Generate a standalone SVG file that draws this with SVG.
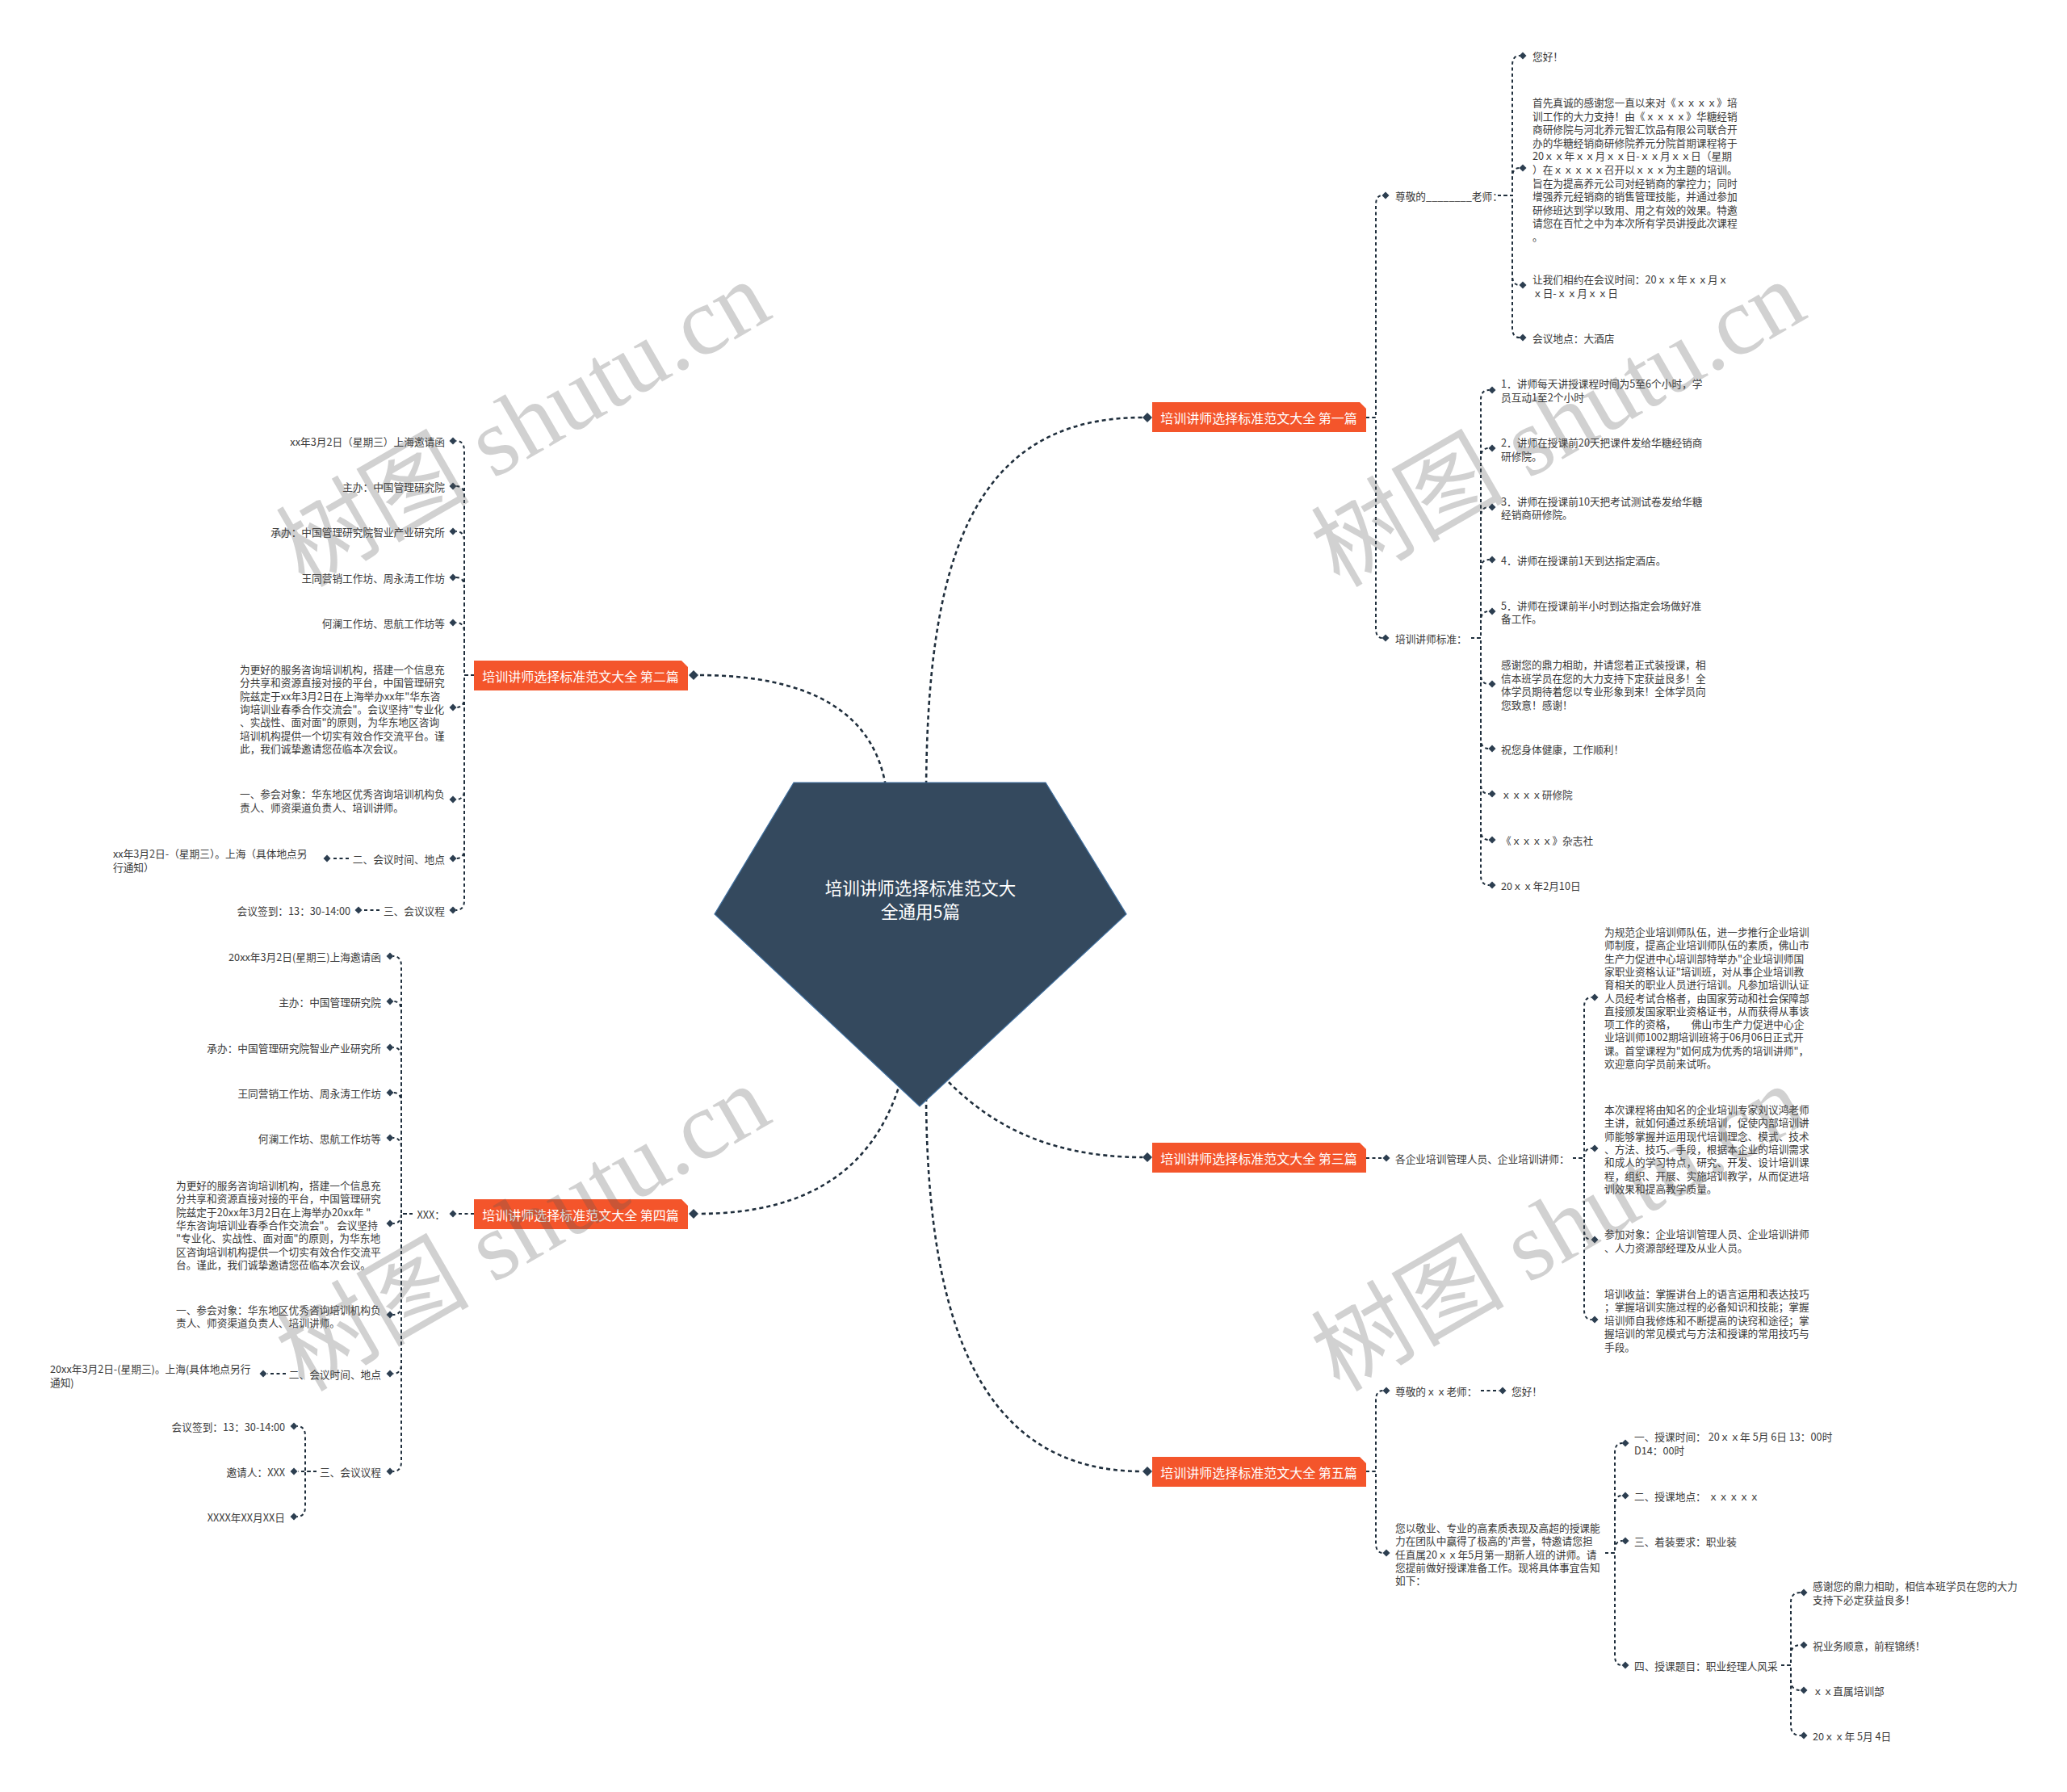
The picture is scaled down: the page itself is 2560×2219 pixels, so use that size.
<svg xmlns="http://www.w3.org/2000/svg" xmlns:xlink="http://www.w3.org/1999/xlink" width="2560" height="2219" viewBox="0 0 2560 2219">
<style>
text{font-family:"Noto Sans CJK SC","Liberation Sans",sans-serif;dominant-baseline:central}
.t{font-size:12.7px;fill:#3a3a3a}
.e{text-anchor:end}
.b{font-size:16px;fill:#fff;text-anchor:middle}
.c{font-size:21.5px;fill:#fff;text-anchor:middle}
.main{fill:none;stroke:#1f2e3c;stroke-width:2.6;stroke-dasharray:5 4}
.sub{fill:none;stroke:#1f2e3c;stroke-width:2;stroke-dasharray:4 3.5}
.box{fill:#f4552b}
.wm{font-family:"Liberation Serif","Noto Sans CJK SC",serif;font-size:120px;fill:#555;fill-opacity:0.27;text-anchor:middle}
</style>
<defs>
<path id="dm" d="M0 -4.5L4.5 0L0 4.5L-4.5 0Z" fill="#2c3e50"/>
<path id="dM" d="M0 -6L6 0L0 6L-6 0Z" fill="#2c3e50"/>
</defs>
<rect width="2560" height="2219" fill="#fff"/>

<g id="connectors">
<path class="main" d="M1147 990 C1147 700 1200 517 1415 517"/>
<path class="main" d="M1099 990 C1090 880 1000 836 865 836"/>
<path class="main" d="M1175 1340 C1220 1385 1290 1433 1415 1433"/>
<path class="main" d="M1115 1340 C1085 1440 1010 1503 865 1503"/>
<path class="main" d="M1147 1350 C1147 1650 1220 1822 1415 1822"/>

<path class="sub" d="M1692 517 H1704 V254 Q1704 242 1712 242"/>
<path class="sub" d="M1692 517 H1704 V778 Q1704 790 1712 790"/>
<path class="sub" d="M1855 242 H1873 V81 Q1873 69 1882 69"/>
<path class="sub" d="M1855 242 H1873 V220 Q1873 208 1882 208"/>
<path class="sub" d="M1855 242 H1873 V341 Q1873 353 1882 353"/>
<path class="sub" d="M1855 242 H1873 V406 Q1873 418 1882 418"/>
<path class="sub" d="M1822 790 H1834 V495 Q1834 483 1844 483"/>
<path class="sub" d="M1822 790 H1834 V567 Q1834 555 1844 555"/>
<path class="sub" d="M1822 790 H1834 V640 Q1834 628 1844 628"/>
<path class="sub" d="M1822 790 H1834 V705 Q1834 693 1844 693"/>
<path class="sub" d="M1822 790 H1834 V769 Q1834 757 1844 757"/>
<path class="sub" d="M1822 790 H1834 V835 Q1834 847 1844 847"/>
<path class="sub" d="M1822 790 H1834 V915 Q1834 927 1844 927"/>
<path class="sub" d="M1822 790 H1834 V971 Q1834 983 1844 983"/>
<path class="sub" d="M1822 790 H1834 V1028 Q1834 1040 1844 1040"/>
<path class="sub" d="M1822 790 H1834 V1084 Q1834 1096 1844 1096"/>

<path class="sub" d="M1692 1434 H1712"/>
<path class="sub" d="M1948 1434 H1962 V1247 Q1962 1235 1971 1235"/>
<path class="sub" d="M1948 1434 H1962 Q1962 1422 1971 1422"/>
<path class="sub" d="M1948 1434 H1962 V1523 Q1962 1535 1971 1535"/>
<path class="sub" d="M1948 1434 H1962 V1622 Q1962 1634 1971 1634"/>

<path class="sub" d="M1692 1822 H1704 V1734 Q1704 1722 1713 1722"/>
<path class="sub" d="M1692 1822 H1704 V1911 Q1704 1923 1713 1923"/>
<path class="sub" d="M1834 1722 H1857"/>
<path class="sub" d="M1988 1923 H2000 V1799 Q2000 1787 2009 1787"/>
<path class="sub" d="M1988 1923 H2000 V1864 Q2000 1852 2009 1852"/>
<path class="sub" d="M1988 1923 H2000 V1920 Q2000 1908 2009 1908"/>
<path class="sub" d="M1988 1923 H2000 V2050 Q2000 2062 2009 2062"/>
<path class="sub" d="M2206 2062 H2218 V1984 Q2218 1972 2230 1972"/>
<path class="sub" d="M2206 2062 H2218 V2049 Q2218 2037 2230 2037"/>
<path class="sub" d="M2206 2062 H2218 V2081 Q2218 2093 2230 2093"/>
<path class="sub" d="M2206 2062 H2218 V2137 Q2218 2149 2230 2149"/>

<path class="sub" d="M587 836 H575 V558 Q575 546 565 546"/>
<path class="sub" d="M587 836 H575 V614 Q575 602 565 602"/>
<path class="sub" d="M587 836 H575 V670 Q575 658 565 658"/>
<path class="sub" d="M587 836 H575 V727 Q575 715 565 715"/>
<path class="sub" d="M587 836 H575 V783 Q575 771 565 771"/>
<path class="sub" d="M587 836 H575 V864 Q575 876 565 876"/>
<path class="sub" d="M587 836 H575 V978 Q575 990 565 990"/>
<path class="sub" d="M587 836 H575 V1051 Q575 1063 565 1063"/>
<path class="sub" d="M587 836 H575 V1115 Q575 1127 565 1127"/>
<path class="sub" d="M432 1063 H410"/>
<path class="sub" d="M470 1127 H449"/>

<path class="sub" d="M587 1503 H566"/>
<path class="sub" d="M511 1503 H497 V1196 Q497 1184 487 1184"/>
<path class="sub" d="M511 1503 H497 V1252 Q497 1240 487 1240"/>
<path class="sub" d="M511 1503 H497 V1309 Q497 1297 487 1297"/>
<path class="sub" d="M511 1503 H497 V1365 Q497 1353 487 1353"/>
<path class="sub" d="M511 1503 H497 V1421 Q497 1409 487 1409"/>
<path class="sub" d="M511 1503 H497 Q497 1515 487 1515"/>
<path class="sub" d="M511 1503 H497 V1616 Q497 1628 487 1628"/>
<path class="sub" d="M511 1503 H497 V1689 Q497 1701 487 1701"/>
<path class="sub" d="M511 1503 H497 V1810 Q497 1822 487 1822"/>
<path class="sub" d="M354 1701 H331"/>
<path class="sub" d="M392 1822 H378 V1778 Q378 1766 368 1766"/>
<path class="sub" d="M392 1822 H369"/>
<path class="sub" d="M392 1822 H378 V1866 Q378 1878 368 1878"/>
</g>

<g id="center">
<path d="M983 969 H1295 L1395 1132 L1139 1370 L885 1132 Z" fill="#34495e" stroke="#3f6f9f" stroke-width="1.2"/>
<text class="c" x="1140" y="1098">培训讲师选择标准范文大</text>
<text class="c" x="1140" y="1127">全通用5篇</text>
</g>

<g id="b1">
<path class="box" d="M1427 498 H1684 L1692 506 V535 H1427 Z"/>
<text class="b" x="1559" y="517">培训讲师选择标准范文大全 第一篇</text>
<use href="#dM" x="1421" y="517"/>
</g>
<g id="b1-a">
<use href="#dm" x="1716" y="242"/>
<text class="t" x="1728" y="242">尊敬的________老师：</text>
</g>
<g id="b1-a1"><use href="#dm" x="1886" y="69"/><text class="t" x="1898" y="69">您好！</text></g>
<g id="b1-a2"><use href="#dm" x="1886" y="208"/>
<text class="t"><tspan x="1898" y="126">首先真诚的感谢您一直以来对《ｘｘｘｘ》培</tspan><tspan x="1898" y="142.6">训工作的大力支持！由《ｘｘｘｘ》华糖经销</tspan><tspan x="1898" y="159.2">商研修院与河北养元智汇饮品有限公司联合开</tspan><tspan x="1898" y="175.8">办的华糖经销商研修院养元分院首期课程将于</tspan><tspan x="1898" y="192.4">20ｘｘ年ｘｘ月ｘｘ日-ｘｘ月ｘｘ日（星期</tspan><tspan x="1898" y="209">）在ｘｘｘｘｘ召开以ｘｘｘ为主题的培训。</tspan><tspan x="1898" y="225.6">旨在为提高养元公司对经销商的掌控力；同时</tspan><tspan x="1898" y="242.2">增强养元经销商的销售管理技能，并通过参加</tspan><tspan x="1898" y="258.8">研修班达到学以致用、用之有效的效果。特邀</tspan><tspan x="1898" y="275.4">请您在百忙之中为本次所有学员讲授此次课程</tspan><tspan x="1898" y="292">。</tspan></text></g>
<g id="b1-a3"><use href="#dm" x="1886" y="353"/>
<text class="t"><tspan x="1898" y="345">让我们相约在会议时间：20ｘｘ年ｘｘ月ｘ</tspan><tspan x="1898" y="362">ｘ日-ｘｘ月ｘｘ日</tspan></text></g>
<g id="b1-a4"><use href="#dm" x="1886" y="418"/><text class="t" x="1898" y="418">会议地点：大酒店</text></g>

<g id="b1-b">
<use href="#dm" x="1716" y="790"/>
<text class="t" x="1728" y="790">培训讲师标准：</text>
</g>
<g id="b1-b1"><use href="#dm" x="1848" y="483"/><text class="t"><tspan x="1859" y="474">1．讲师每天讲授课程时间为5至6个小时，学</tspan><tspan x="1859" y="491">员互动1至2个小时</tspan></text></g>
<g id="b1-b2"><use href="#dm" x="1848" y="555"/><text class="t"><tspan x="1859" y="547">2．讲师在授课前20天把课件发给华糖经销商</tspan><tspan x="1859" y="564">研修院。</tspan></text></g>
<g id="b1-b3"><use href="#dm" x="1848" y="628"/><text class="t"><tspan x="1859" y="620">3．讲师在授课前10天把考试测试卷发给华糖</tspan><tspan x="1859" y="636">经销商研修院。</tspan></text></g>
<g id="b1-b4"><use href="#dm" x="1848" y="693"/><text class="t" x="1859" y="693">4．讲师在授课前1天到达指定酒店。</text></g>
<g id="b1-b5"><use href="#dm" x="1848" y="757"/><text class="t"><tspan x="1859" y="749">5．讲师在授课前半小时到达指定会场做好准</tspan><tspan x="1859" y="765">备工作。</tspan></text></g>
<g id="b1-b6"><use href="#dm" x="1848" y="847"/><text class="t"><tspan x="1859" y="822">感谢您的鼎力相助，并请您着正式装授课，相</tspan><tspan x="1859" y="838.5">信本班学员在您的大力支持下定获益良多！全</tspan><tspan x="1859" y="855">体学员期待着您以专业形象到来！全体学员向</tspan><tspan x="1859" y="871.5">您致意！感谢！</tspan></text></g>
<g id="b1-b7"><use href="#dm" x="1848" y="927"/><text class="t" x="1859" y="927">祝您身体健康，工作顺利！</text></g>
<g id="b1-b8"><use href="#dm" x="1848" y="983"/><text class="t" x="1859" y="983">ｘｘｘｘ研修院</text></g>
<g id="b1-b9"><use href="#dm" x="1848" y="1040"/><text class="t" x="1859" y="1040">《ｘｘｘｘ》杂志社</text></g>
<g id="b1-b10"><use href="#dm" x="1848" y="1096"/><text class="t" x="1859" y="1096">20ｘｘ年2月10日</text></g>

<g id="b3">
<path class="box" d="M1427 1415 H1684 L1692 1423 V1452 H1427 Z"/>
<text class="b" x="1559" y="1434">培训讲师选择标准范文大全 第三篇</text>
<use href="#dM" x="1421" y="1433"/>
</g>
<g id="b3-a"><use href="#dm" x="1717" y="1434"/><text class="t" x="1728" y="1434">各企业培训管理人员、企业培训讲师：</text></g>
<g id="b3-a1"><use href="#dm" x="1975" y="1235"/><text class="t"><tspan x="1987" y="1153">为规范企业培训师队伍，进一步推行企业培训</tspan><tspan x="1987" y="1169.3">师制度，提高企业培训师队伍的素质，佛山市</tspan><tspan x="1987" y="1185.6">生产力促进中心培训部特举办"企业培训师国</tspan><tspan x="1987" y="1201.9">家职业资格认证"培训班，对从事企业培训教</tspan><tspan x="1987" y="1218.2">育相关的职业人员进行培训。凡参加培训认证</tspan><tspan x="1987" y="1234.5">人员经考试合格者，由国家劳动和社会保障部</tspan><tspan x="1987" y="1250.8">直接颁发国家职业资格证书，从而获得从事该</tspan><tspan x="1987" y="1267.1">项工作的资格，　　佛山市生产力促进中心企</tspan><tspan x="1987" y="1283.4">业培训师1002期培训班将于06月06日正式开</tspan><tspan x="1987" y="1299.7">课。首堂课程为"如何成为优秀的培训讲师"，</tspan><tspan x="1987" y="1316">欢迎意向学员前来试听。</tspan></text></g>
<g id="b3-a2"><use href="#dm" x="1975" y="1422"/><text class="t"><tspan x="1987" y="1373">本次课程将由知名的企业培训专家刘议鸿老师</tspan><tspan x="1987" y="1389.3">主讲，就如何通过系统培训，促使内部培训讲</tspan><tspan x="1987" y="1405.6">师能够掌握并运用现代培训理念、模式、技术</tspan><tspan x="1987" y="1421.9">、方法、技巧、手段，根据本企业的培训需求</tspan><tspan x="1987" y="1438.2">和成人的学习特点，研究、开发、设计培训课</tspan><tspan x="1987" y="1454.5">程，组织、开展、实施培训教学，从而促进培</tspan><tspan x="1987" y="1470.8">训效果和提高教学质量。</tspan></text></g>
<g id="b3-a3"><use href="#dm" x="1975" y="1535"/><text class="t"><tspan x="1987" y="1527">参加对象：企业培训管理人员、企业培训讲师</tspan><tspan x="1987" y="1543.5">、人力资源部经理及从业人员。</tspan></text></g>
<g id="b3-a4"><use href="#dm" x="1975" y="1634"/><text class="t"><tspan x="1987" y="1601">培训收益：掌握讲台上的语言运用和表达技巧</tspan><tspan x="1987" y="1617.4">；掌握培训实施过程的必备知识和技能；掌握</tspan><tspan x="1987" y="1633.8">培训师自我修炼和不断提高的诀窍和途径；掌</tspan><tspan x="1987" y="1650.2">握培训的常见模式与方法和授课的常用技巧与</tspan><tspan x="1987" y="1666.6">手段。</tspan></text></g>

<g id="b5">
<path class="box" d="M1427 1804 H1684 L1692 1812 V1841 H1427 Z"/>
<text class="b" x="1559" y="1823">培训讲师选择标准范文大全 第五篇</text>
<use href="#dM" x="1421" y="1822"/>
</g>
<g id="b5-a"><use href="#dm" x="1717" y="1722"/><text class="t" x="1728" y="1722">尊敬的ｘｘ老师：</text></g>
<g id="b5-a1"><use href="#dm" x="1861" y="1722"/><text class="t" x="1872" y="1722">您好！</text></g>
<g id="b5-b"><use href="#dm" x="1717" y="1923"/><text class="t"><tspan x="1728" y="1891">您以敬业、专业的高素质表现及高超的授课能</tspan><tspan x="1728" y="1907.3">力在团队中赢得了极高的'声誉，特邀请您担</tspan><tspan x="1728" y="1923.6">任直属20ｘｘ年5月第一期新人班的讲师。请</tspan><tspan x="1728" y="1939.9">您提前做好授课准备工作。现将具体事宜告知</tspan><tspan x="1728" y="1956.2">如下：</tspan></text></g>
<g id="b5-b1"><use href="#dm" x="2013" y="1787"/><text class="t"><tspan x="2024" y="1778">一、授课时间： 20ｘｘ年 5月 6日 13：00时</tspan><tspan x="2024" y="1795">D14：00时</tspan></text></g>
<g id="b5-b2"><use href="#dm" x="2013" y="1852"/><text class="t" x="2024" y="1852">二、授课地点： ｘｘｘｘｘ</text></g>
<g id="b5-b3"><use href="#dm" x="2013" y="1908"/><text class="t" x="2024" y="1908">三、着装要求：职业装</text></g>
<g id="b5-b4"><use href="#dm" x="2013" y="2062"/><text class="t" x="2024" y="2062">四、授课题目：职业经理人风采</text></g>
<g id="b5-c1"><use href="#dm" x="2234" y="1972"/><text class="t"><tspan x="2245" y="1963">感谢您的鼎力相助，相信本班学员在您的大力</tspan><tspan x="2245" y="1980">支持下必定获益良多！</tspan></text></g>
<g id="b5-c2"><use href="#dm" x="2234" y="2037"/><text class="t" x="2245" y="2037">祝业务顺意，前程锦绣！</text></g>
<g id="b5-c3"><use href="#dm" x="2234" y="2093"/><text class="t" x="2245" y="2093">ｘｘ直属培训部</text></g>
<g id="b5-c4"><use href="#dm" x="2234" y="2149"/><text class="t" x="2245" y="2149">20ｘｘ年 5月 4日</text></g>

<g id="b2">
<path class="box" d="M587 818 H844 L852 826 V855 H587 Z"/>
<text class="b" x="719" y="837">培训讲师选择标准范文大全 第二篇</text>
<use href="#dM" x="859" y="836"/>
</g>
<g id="b2-1"><use href="#dm" x="561" y="546"/><text class="t e" x="551" y="546">xx年3月2日（星期三）上海邀请函</text></g>
<g id="b2-2"><use href="#dm" x="561" y="602"/><text class="t e" x="551" y="602">主办：中国管理研究院</text></g>
<g id="b2-3"><use href="#dm" x="561" y="658"/><text class="t e" x="551" y="658">承办：中国管理研究院智业产业研究所</text></g>
<g id="b2-4"><use href="#dm" x="561" y="715"/><text class="t e" x="551" y="715">王同营销工作坊、周永涛工作坊</text></g>
<g id="b2-5"><use href="#dm" x="561" y="771"/><text class="t e" x="551" y="771">何澜工作坊、思航工作坊等</text></g>
<g id="b2-6"><use href="#dm" x="561" y="876"/><text class="t"><tspan x="297" y="828">为更好的服务咨询培训机构，搭建一个信息充</tspan><tspan x="297" y="844.3">分共享和资源直接对接的平台，中国管理研究</tspan><tspan x="297" y="860.6">院兹定于xx年3月2日在上海举办xx年"华东咨</tspan><tspan x="297" y="876.9">询培训业春季合作交流会"。会议坚持"专业化</tspan><tspan x="297" y="893.2">、实战性、面对面"的原则，为华东地区咨询</tspan><tspan x="297" y="909.5">培训机构提供一个切实有效合作交流平台。谨</tspan><tspan x="297" y="925.8">此，我们诚挚邀请您莅临本次会议。</tspan></text></g>
<g id="b2-7"><use href="#dm" x="561" y="990"/><text class="t"><tspan x="297" y="982">一、参会对象：华东地区优秀咨询培训机构负</tspan><tspan x="297" y="998.5">责人、师资渠道负责人、培训讲师。</tspan></text></g>
<g id="b2-8"><use href="#dm" x="561" y="1063"/><text class="t e" x="551" y="1063">二、会议时间、地点</text></g>
<g id="b2-8a"><use href="#dm" x="405" y="1063"/><text class="t"><tspan x="140" y="1056">xx年3月2日-（星期三）。上海（具体地点另</tspan><tspan x="140" y="1072.5">行通知）</tspan></text></g>
<g id="b2-9"><use href="#dm" x="561" y="1127"/><text class="t e" x="551" y="1127">三、会议议程</text></g>
<g id="b2-9a"><use href="#dm" x="444" y="1127"/><text class="t e" x="434" y="1127">会议签到：13：30-14:00</text></g>

<g id="b4">
<path class="box" d="M587 1485 H844 L852 1493 V1522 H587 Z"/>
<text class="b" x="719" y="1504">培训讲师选择标准范文大全 第四篇</text>
<use href="#dM" x="859" y="1503"/>
</g>
<g id="b4-x"><use href="#dm" x="561" y="1503"/><text class="t e" x="551" y="1503">XXX：</text></g>
<g id="b4-1"><use href="#dm" x="483" y="1184"/><text class="t e" x="472" y="1184">20xx年3月2日(星期三)上海邀请函</text></g>
<g id="b4-2"><use href="#dm" x="483" y="1240"/><text class="t e" x="472" y="1240">主办：中国管理研究院</text></g>
<g id="b4-3"><use href="#dm" x="483" y="1297"/><text class="t e" x="472" y="1297">承办：中国管理研究院智业产业研究所</text></g>
<g id="b4-4"><use href="#dm" x="483" y="1353"/><text class="t e" x="472" y="1353">王同营销工作坊、周永涛工作坊</text></g>
<g id="b4-5"><use href="#dm" x="483" y="1409"/><text class="t e" x="472" y="1409">何澜工作坊、思航工作坊等</text></g>
<g id="b4-6"><use href="#dm" x="483" y="1515"/><text class="t"><tspan x="218" y="1467">为更好的服务咨询培训机构，搭建一个信息充</tspan><tspan x="218" y="1483.3">分共享和资源直接对接的平台，中国管理研究</tspan><tspan x="218" y="1499.6">院兹定于20xx年3月2日在上海举办20xx年 "</tspan><tspan x="218" y="1515.9">华东咨询培训业春季合作交流会"。 会议坚持</tspan><tspan x="218" y="1532.2">"专业化、实战性、面对面"的原则，为华东地</tspan><tspan x="218" y="1548.5">区咨询培训机构提供一个切实有效合作交流平</tspan><tspan x="218" y="1564.8">台。谨此，我们诚挚邀请您莅临本次会议。</tspan></text></g>
<g id="b4-7"><use href="#dm" x="483" y="1628"/><text class="t"><tspan x="218" y="1621">一、参会对象：华东地区优秀咨询培训机构负</tspan><tspan x="218" y="1637">责人、师资渠道负责人、培训讲师。</tspan></text></g>
<g id="b4-8"><use href="#dm" x="483" y="1701"/><text class="t e" x="472" y="1701">二、会议时间、地点</text></g>
<g id="b4-8a"><use href="#dm" x="326" y="1701"/><text class="t"><tspan x="62" y="1694">20xx年3月2日-(星期三)。上海(具体地点另行</tspan><tspan x="62" y="1710.5">通知)</tspan></text></g>
<g id="b4-9"><use href="#dm" x="483" y="1822"/><text class="t e" x="472" y="1822">三、会议议程</text></g>
<g id="b4-9a"><use href="#dm" x="364" y="1766"/><text class="t e" x="353" y="1766">会议签到：13：30-14:00</text></g>
<g id="b4-9b"><use href="#dm" x="364" y="1822"/><text class="t e" x="353" y="1822">邀请人：XXX</text></g>
<g id="b4-9c"><use href="#dm" x="364" y="1878"/><text class="t e" x="353" y="1878">XXXX年XX月XX日</text></g>

<g id="watermarks">
<text class="wm" transform="translate(648 525) rotate(-30)">树图 shutu.cn</text>
<text class="wm" transform="translate(1930 525) rotate(-30)">树图 shutu.cn</text>
<text class="wm" transform="translate(648 1521) rotate(-30)">树图 shutu.cn</text>
<text class="wm" transform="translate(1930 1521) rotate(-30)">树图 shutu.cn</text>
</g>
</svg>
